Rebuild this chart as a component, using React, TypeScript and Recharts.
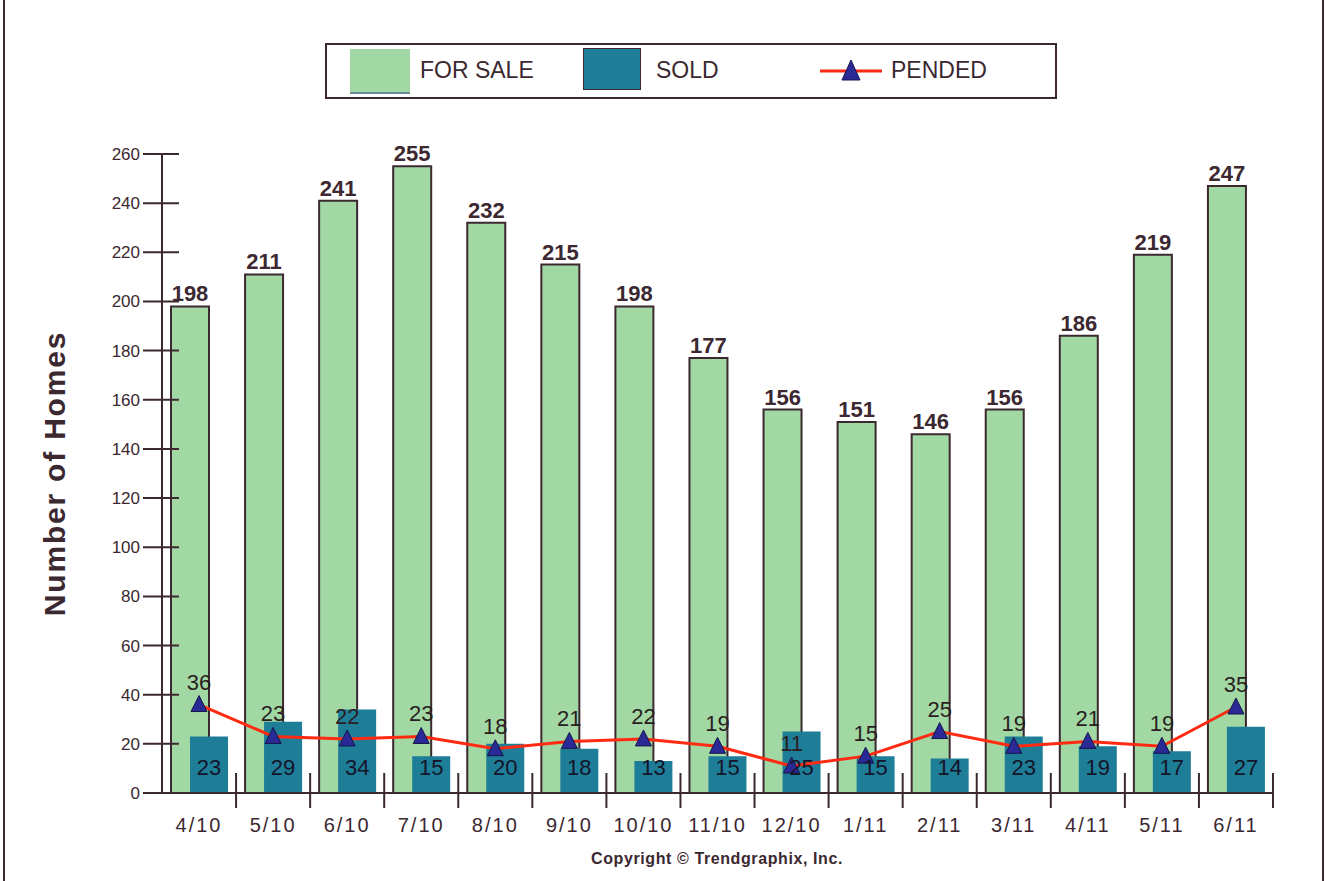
import React from 'react';
import { ComposedChart, Bar, Line, XAxis, YAxis, LabelList } from 'recharts';

const months = ['4/10', '5/10', '6/10', '7/10', '8/10', '9/10', '10/10', '11/10', '12/10', '1/11', '2/11', '3/11', '4/11', '5/11', '6/11'];
const forSale = [198, 211, 241, 255, 232, 215, 198, 177, 156, 151, 146, 156, 186, 219, 247];
const sold = [23, 29, 34, 15, 20, 18, 13, 15, 25, 15, 14, 23, 19, 17, 27];
const pended = [36, 23, 22, 23, 18, 21, 22, 19, 11, 15, 25, 19, 21, 19, 35];
const yTicks = [0, 20, 40, 60, 80, 100, 120, 140, 160, 180, 200, 220, 240, 260];

const data = months.map((m, i) => ({ month: m, forSale: forSale[i], sold: sold[i], pended: pended[i] }));

const W = 1326;
const H = 881;
const M = { top: 154, right: 53, bottom: 58, left: 102 };
const YW = 60;
const XH = 30;
const PLOT_W = W - M.left - YW - M.right;
const BAND = PLOT_W / months.length;

const INK = '#3b2830';
const GREEN = '#a2d8a3';
const BLUE = '#1e7d97';
const RED = '#ff2a12';
const NAVY = '#2a2a96';
const FONT = '"Liberation Sans", Arial, sans-serif';

const XTick = (props: any) => {
  const { x, y, payload } = props;
  return (
    <g>
      <line x1={x + BAND / 2} x2={x + BAND / 2} y1={y - 20} y2={y + 15} stroke={INK} strokeWidth={2} />
      <text x={x} y={y + 39} textAnchor="middle" fontFamily={FONT} fontSize={20} letterSpacing={2} fill={INK}>
        {payload.value}
      </text>
    </g>
  );
};

const YTick = (props: any) => {
  const { x, y, payload } = props;
  return (
    <g>
      <line x1={x - 19} x2={x + 17} y1={y} y2={y} stroke={INK} strokeWidth={2} />
      <text x={x - 22} y={y} dy={6} textAnchor="end" fontFamily={FONT} fontSize={17} fill={INK}>
        {payload.value}
      </text>
    </g>
  );
};

const SoldLabel = (props: any) => {
  const { x, y, width, height, value } = props;
  return (
    <text x={x + width / 2} y={y + height - 26} dy={8} textAnchor="middle" fontFamily={FONT} fontSize={22} fill="#14142a">
      {value}
    </text>
  );
};

const Triangle = (props: any) => {
  const { cx, cy } = props;
  if (cx == null || cy == null) return null;
  return <path d={`M${cx},${cy - 9} L${cx + 8},${cy + 7} L${cx - 8},${cy + 7} Z`} fill={NAVY} stroke="#15154a" strokeWidth={1} />;
};

const Legend = () => (
  <div
    style={{
      position: 'absolute',
      left: 325,
      top: 43,
      width: 728,
      height: 52,
      border: `2px solid ${INK}`,
      background: '#fff',
      fontFamily: FONT,
      color: INK,
      fontSize: 23,
    }}
  >
    <div style={{ position: 'absolute', left: 23, top: 4, width: 60, height: 43, background: GREEN, borderBottom: '2px solid #6a8aa0' }} />
    <div style={{ position: 'absolute', left: 93, top: 12 }}>FOR SALE</div>
    <div style={{ position: 'absolute', left: 256, top: 3, width: 56, height: 40, background: BLUE, border: `1px solid ${INK}` }} />
    <div style={{ position: 'absolute', left: 329, top: 12 }}>SOLD</div>
    <svg style={{ position: 'absolute', left: 493, top: 10 }} width={62} height={32}>
      <line x1={0} x2={62} y1={16} y2={16} stroke={RED} strokeWidth={3} />
      <path d="M31,5 L40,25 L22,25 Z" fill={NAVY} stroke="#15154a" />
    </svg>
    <div style={{ position: 'absolute', left: 564, top: 12 }}>PENDED</div>
  </div>
);

export default function App() {
  return (
    <div style={{ position: 'absolute', left: 0, top: 0, width: W, height: H, background: '#fff', overflow: 'hidden' }}>
      <div style={{ position: 'absolute', left: 3, top: 0, width: 2, height: H, background: INK }} />
      <div style={{ position: 'absolute', left: 1322, top: 0, width: 2, height: H, background: INK }} />
      <Legend />
      <ComposedChart width={W} height={H} data={data} margin={M} barGap={-19}>
        <XAxis
          dataKey="month"
          height={XH}
          tick={<XTick />}
          tickLine={false}
          tickSize={0}
          tickMargin={0}
          axisLine={{ stroke: INK, strokeWidth: 2 }}
          interval={0}
        />
        <YAxis
          width={YW}
          domain={[0, 260]}
          ticks={yTicks}
          tick={<YTick />}
          tickLine={false}
          tickSize={0}
          tickMargin={0}
          axisLine={{ stroke: INK, strokeWidth: 2 }}
          interval={0}
          label={{
            value: 'Number of Homes',
            angle: -90,
            position: 'insideLeft',
            offset: 0,
            dx: -48,
            dy: 0,
            style: { textAnchor: 'middle', fontFamily: FONT, fontSize: 30, fontWeight: 'bold', fill: INK, letterSpacing: 1.8 },
          }}
        />
        <Bar dataKey="forSale" fill={GREEN} stroke={INK} strokeWidth={2} barSize={38} isAnimationActive={false}>
          <LabelList dataKey="forSale" position="top" offset={5} fontFamily={FONT} fontSize={22} fontWeight="bold" fill={INK} />
        </Bar>
        <Bar dataKey="sold" fill={BLUE} barSize={38} isAnimationActive={false}>
          <LabelList dataKey="sold" content={<SoldLabel />} />
        </Bar>
        <Line
          dataKey="pended"
          type="linear"
          stroke={RED}
          strokeWidth={3}
          dot={<Triangle />}
          activeDot={false}
          isAnimationActive={false}
        >
          <LabelList dataKey="pended" position="top" offset={15} fontFamily={FONT} fontSize={22} fill="#2a1e22" />
        </Line>
      </ComposedChart>
      <div style={{ position: 'absolute', left: 0, width: W, top: 850, textAlign: 'center', paddingLeft: 108, boxSizing: 'border-box', fontFamily: FONT, fontSize: 16, letterSpacing: 0.6, fontWeight: 'bold', color: INK }}>
        Copyright © Trendgraphix, Inc.
      </div>
    </div>
  );
}
